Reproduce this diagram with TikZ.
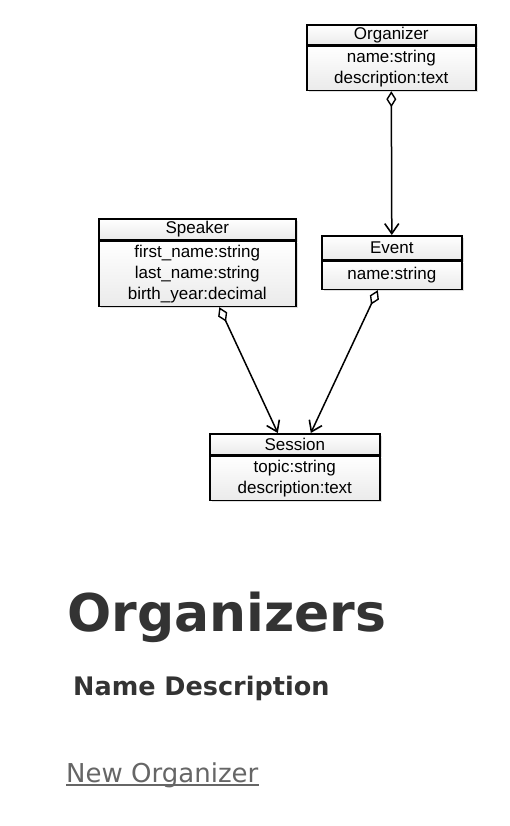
\documentclass[tikz,border=0pt]{standalone}
\usepackage{fontspec}
\setmainfont{DejaVu Sans}
\newfontfamily\boxfont{Liberation Sans}
\usetikzlibrary{arrows.meta, positioning, shadows}

\definecolor{headtext}{HTML}{333333}
\definecolor{linktext}{HTML}{666666}

\begin{document}
\begin{tikzpicture}[x=1pt, y=-1pt,
    cls/.style={draw, line width=1.6pt, top color=white, bottom color=gray!16,
        inner sep=0pt, align=center, font=\boxfont\fontsize{17}{21}\selectfont,
        drop shadow={shadow xshift=2pt, shadow yshift=-2pt, opacity=0.25}},
    agg/.style={{Diamond[open, length=16pt, width=10pt, line width=1.4pt]}-{Straight Barb[length=10pt, width=14pt, line width=1.6pt]}, line width=1.5pt},
    heading/.style={inner sep=0pt, text=headtext, font=\bfseries\fontsize{52}{60}\selectfont},
    colhead/.style={inner sep=0pt, text=headtext, font=\bfseries\fontsize{25.5}{30}\selectfont},
    link/.style={inner sep=0pt, text=linktext, font=\fontsize{26}{30}\selectfont}
]
\useasboundingbox[fill=white] (0,0) rectangle (510,826);

% ---- Organizer ----
\node[cls, anchor=north west, minimum width=169pt, minimum height=20pt] (org) at (306,24) {Organizer};
\node[cls, anchor=north, minimum width=169pt, minimum height=44pt] (orgattr) at (org.south) {name:string\\description:text};

% ---- Speaker ----
\node[cls, anchor=north west, minimum width=197pt, minimum height=21pt] (spk) at (98,218) {Speaker};
\node[cls, anchor=north, minimum width=197pt, minimum height=65pt] (spkattr) at (spk.south) {first\_name:string\\last\_name:string\\birth\_year:decimal};

% ---- Event ----
\node[cls, anchor=north west, minimum width=140pt, minimum height=24pt] (evt) at (321,235) {Event};
\node[cls, anchor=north, minimum width=140pt, minimum height=28pt] (evtattr) at (evt.south) {name:string};

% ---- Session ----
\node[cls, anchor=north west, minimum width=170pt, minimum height=21pt] (ses) at (209,433) {Session};
\node[cls, anchor=north, minimum width=170pt, minimum height=44pt] (sesattr) at (ses.south) {topic:string\\description:text};

% ---- Aggregations ----
\draw[agg] (orgattr.south) -- (evt.north);
\draw[agg] ([xshift=22pt]spkattr.south) -- ([xshift=-17pt]ses.north);
\draw[agg] ([xshift=-14pt]evtattr.south) -- ([xshift=16pt]ses.north);

% ---- Page text ----
\node[heading, anchor=base west] (title) at (67,631) {Organizers};
\node[colhead, anchor=base west] (cols) at (73,695) {Name Description};
\node[link, anchor=base west] (newlink) at (66,782) {New Organizer};
\draw[linktext, line width=1.2pt] ([yshift=-3pt]newlink.base west) -- ([yshift=-3pt]newlink.base east);

\end{tikzpicture}
\end{document}
